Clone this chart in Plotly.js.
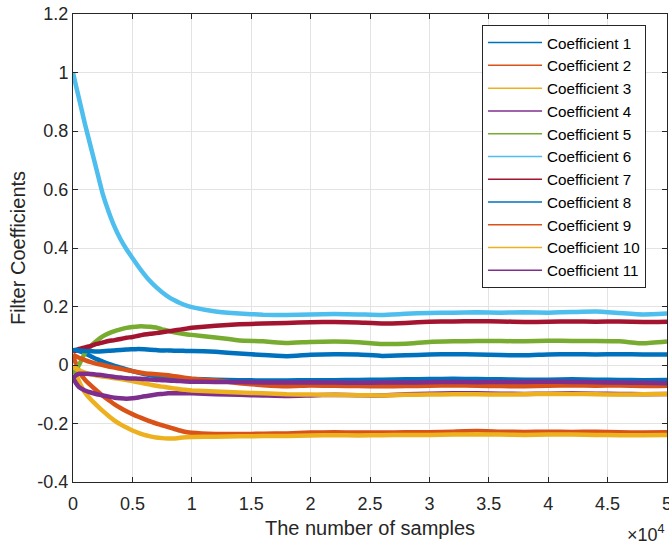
<!DOCTYPE html>
<html>
<head>
<meta charset="utf-8">
<script src="https://cdn.plot.ly/plotly-3.0.1.min.js"></script>
<style>html,body{margin:0;padding:0;background:#fff;}</style>
</head>
<body>
<div id="chart" style="width:669px;height:544px;"></div>
<script>
const samples = [0,250,500,1000,1500,2000,2500,3000,3500,4000,4500,5000,5500,6000,6500,7000,7500,8000,8500,9000,9500,10000,
  12000,14000,16000,18000,20000,22000,24000,26000,28000,30000,32000,34000,36000,38000,40000,42000,44000,46000,48000,50000];

const coef1 = [0.05,0.05,0.048,0.04,0.03,0.02,0.012,0.004,-0.003,-0.009,-0.015,-0.021,-0.026,-0.031,-0.035,-0.038,-0.041,-0.043,-0.045,-0.046,-0.047,-0.048,
  -0.05,-0.052,-0.053,-0.053,-0.052,-0.052,-0.051,-0.05,-0.049,-0.048,-0.047,-0.048,-0.049,-0.05,-0.05,-0.049,-0.05,-0.051,-0.052,-0.051];
const coef2 = [0.03,0.005,-0.02,-0.05,-0.07,-0.088,-0.105,-0.12,-0.135,-0.147,-0.158,-0.168,-0.177,-0.185,-0.193,-0.2,-0.206,-0.212,-0.218,-0.224,-0.229,-0.232,
  -0.236,-0.236,-0.235,-0.234,-0.231,-0.23,-0.231,-0.231,-0.23,-0.23,-0.228,-0.226,-0.228,-0.229,-0.228,-0.229,-0.228,-0.23,-0.231,-0.23];
const coef3 = [-0.005,-0.03,-0.055,-0.094,-0.118,-0.138,-0.157,-0.174,-0.19,-0.203,-0.214,-0.224,-0.232,-0.239,-0.244,-0.248,-0.25,-0.251,-0.251,-0.249,-0.247,-0.246,
  -0.245,-0.244,-0.243,-0.243,-0.241,-0.24,-0.241,-0.24,-0.239,-0.239,-0.238,-0.237,-0.238,-0.239,-0.238,-0.238,-0.239,-0.24,-0.24,-0.239];
const coef4 = [-0.045,-0.062,-0.075,-0.087,-0.094,-0.1,-0.104,-0.108,-0.112,-0.114,-0.115,-0.114,-0.111,-0.107,-0.104,-0.101,-0.099,-0.097,-0.097,-0.097,-0.097,-0.097,
  -0.1,-0.102,-0.104,-0.106,-0.104,-0.102,-0.103,-0.104,-0.1,-0.098,-0.097,-0.097,-0.098,-0.099,-0.098,-0.097,-0.098,-0.099,-0.1,-0.099];
const coef5 = [-0.03,-0.018,0.0,0.04,0.065,0.083,0.098,0.108,0.116,0.122,0.127,0.13,0.132,0.132,0.131,0.128,0.122,0.117,0.112,0.108,0.105,0.103,
  0.094,0.084,0.081,0.075,0.079,0.08,0.078,0.072,0.073,0.079,0.081,0.082,0.082,0.081,0.083,0.082,0.082,0.081,0.074,0.08];
const coef6 = [1.0,0.955,0.912,0.825,0.745,0.665,0.585,0.524,0.472,0.43,0.396,0.366,0.337,0.31,0.286,0.266,0.249,0.234,0.222,0.212,0.204,0.198,
  0.183,0.176,0.172,0.171,0.173,0.174,0.173,0.171,0.175,0.178,0.179,0.18,0.179,0.18,0.179,0.181,0.183,0.178,0.173,0.176];
const coef7 = [0.045,0.05,0.055,0.06,0.065,0.072,0.077,0.082,0.085,0.089,0.093,0.096,0.1,0.104,0.107,0.109,0.112,0.115,0.118,0.121,0.124,0.127,
  0.134,0.139,0.142,0.144,0.146,0.147,0.145,0.142,0.144,0.148,0.149,0.15,0.149,0.147,0.148,0.149,0.148,0.149,0.147,0.148];
const coef8 = [0.05,0.052,0.05,0.048,0.047,0.046,0.047,0.049,0.05,0.051,0.053,0.054,0.055,0.054,0.052,0.051,0.05,0.05,0.049,0.049,0.048,0.048,
  0.045,0.039,0.034,0.03,0.035,0.037,0.036,0.031,0.033,0.036,0.037,0.036,0.034,0.033,0.036,0.037,0.036,0.037,0.036,0.036];
const coef9 = [0.035,0.03,0.025,0.017,0.01,0.004,0.0,-0.005,-0.009,-0.013,-0.017,-0.021,-0.025,-0.028,-0.03,-0.032,-0.033,-0.035,-0.038,-0.041,-0.044,-0.047,
  -0.053,-0.062,-0.069,-0.073,-0.07,-0.071,-0.072,-0.073,-0.072,-0.071,-0.07,-0.071,-0.072,-0.073,-0.071,-0.07,-0.071,-0.07,-0.072,-0.071];
const coef10 = [-0.005,-0.012,-0.018,-0.026,-0.032,-0.036,-0.039,-0.042,-0.045,-0.048,-0.051,-0.055,-0.059,-0.063,-0.067,-0.071,-0.074,-0.077,-0.08,-0.083,-0.085,-0.087,
  -0.091,-0.094,-0.097,-0.1,-0.101,-0.102,-0.103,-0.104,-0.102,-0.101,-0.1,-0.1,-0.101,-0.1,-0.099,-0.099,-0.1,-0.101,-0.1,-0.099];
const coef11 = [-0.045,-0.035,-0.03,-0.03,-0.031,-0.033,-0.035,-0.038,-0.041,-0.043,-0.045,-0.046,-0.047,-0.048,-0.05,-0.051,-0.052,-0.053,-0.054,-0.055,-0.056,-0.057,
  -0.058,-0.058,-0.06,-0.06,-0.059,-0.06,-0.061,-0.06,-0.06,-0.059,-0.058,-0.059,-0.058,-0.058,-0.057,-0.058,-0.059,-0.06,-0.061,-0.062];

const seriesNames = ['Coefficient 1','Coefficient 2','Coefficient 3','Coefficient 4','Coefficient 5','Coefficient 6',
  'Coefficient 7','Coefficient 8','Coefficient 9','Coefficient 10','Coefficient 11'];
const xTickVals = [0,5000,10000,15000,20000,25000,30000,35000,40000,45000,50000];
const xTickText = ['0','0.5','1','1.5','2','2.5','3','3.5','4','4.5','5'];
const yTickVals = [-0.4,-0.2,0,0.2,0.4,0.6,0.8,1,1.2];
const yTickText = ['-0.4','-0.2','0','0.2','0.4','0.6','0.8','1','1.2'];

const colors = ['#0072BD','#D95319','#EDB120','#7E2F8E','#77AC30','#4DBEEE','#A2142F','#0072BD','#D95319','#EDB120','#7E2F8E'];
const allSeries = [coef1,coef2,coef3,coef4,coef5,coef6,coef7,coef8,coef9,coef10,coef11];

const traces = [];
allSeries.forEach((ys, i) => {
  traces.push({
    x: samples, y: ys, type: 'scatter', mode: 'lines',
    line: {color: colors[i], width: 4.5, shape: 'spline', smoothing: 0.4},
    showlegend: false, hoverinfo: 'skip'
  });
});
allSeries.forEach((ys, i) => {
  traces.push({
    x: [null], y: [null], type: 'scatter', mode: 'lines', name: seriesNames[i],
    line: {color: colors[i], width: 1.5},
    showlegend: true
  });
});

const axisCommon = {
  ticks: 'inside', ticklen: 5, tickcolor: '#262626', tickwidth: 1,
  showline: true, linecolor: '#262626', linewidth: 1, mirror: 'ticks',
  showgrid: true, gridcolor: '#e3e3e3', gridwidth: 1, zeroline: false,
  tickfont: {size: 18, color: '#262626'}, automargin: false,
  ticklabeloverflow: 'allow'
};

const layout = {
  width: 669, height: 544,
  margin: {l: 73, r: 2, t: 14, b: 62, pad: 0},
  paper_bgcolor: '#ffffff', plot_bgcolor: '#ffffff',
  font: {family: '"Liberation Sans", Arial, Helvetica, sans-serif', color: '#262626', size: 18},
  xaxis: Object.assign({}, axisCommon, {
    range: [0, 50000], tickmode: 'array', tickvals: xTickVals, ticktext: xTickText,
    ticklabelstandoff: 5,
    title: {text: 'The number of samples', font: {size: 20, color: '#262626'}, standoff: 8}
  }),
  yaxis: Object.assign({}, axisCommon, {
    range: [-0.4, 1.2], tickmode: 'array', tickvals: yTickVals, ticktext: yTickText,
    title: {text: 'Filter Coefficients', font: {size: 20, color: '#262626'}, standoff: 6}
  }),
  legend: {
    x: 0.6886, y: 0.976, xanchor: 'left', yanchor: 'top',
    bgcolor: '#ffffff', bordercolor: '#262626', borderwidth: 1,
    font: {size: 15.2, color: '#000000'}, itemwidth: 54,
    traceorder: 'normal'
  },
  annotations: [{
    text: '×10<sup>4</sup>', xref: 'paper', yref: 'paper', x: 1.0, y: -0.109,
    xanchor: 'right', yanchor: 'middle', showarrow: false,
    font: {size: 18, color: '#262626'}
  }]
};

Plotly.newPlot('chart', traces, layout, {staticPlot: true, displayModeBar: false});
</script>
</body>
</html>
